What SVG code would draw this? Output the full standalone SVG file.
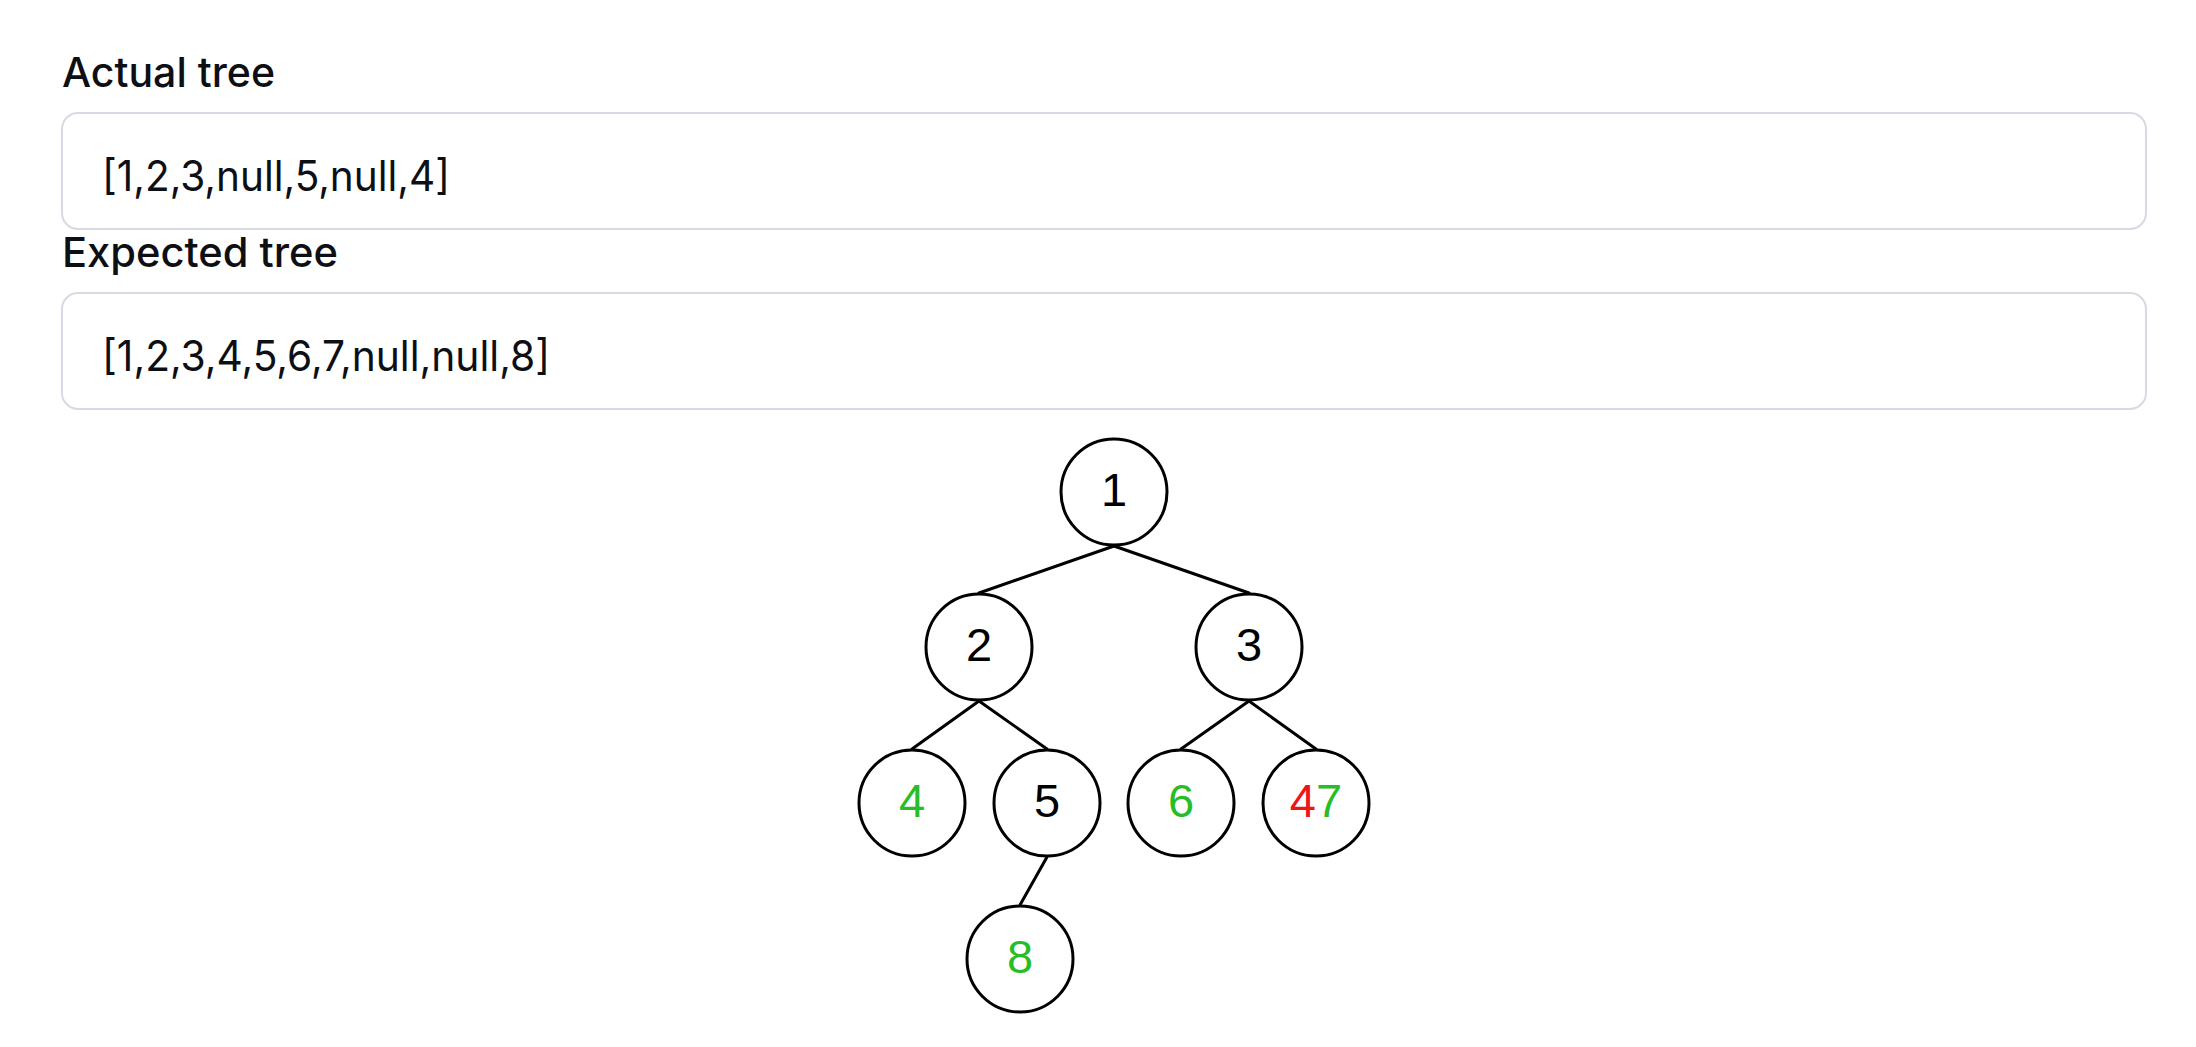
<svg xmlns="http://www.w3.org/2000/svg" width="2196" height="1047" viewBox="0 0 2196 1047">
  <style>
    .label { font-family: Inter, "Noto Sans", "Liberation Sans", sans-serif; font-weight: 500; font-size: 41px; fill: #0d0f14; }
    .field { fill: #ffffff; stroke: #d6dae3; stroke-width: 2; }
    .value { font-family: Inter, "Noto Sans", "Liberation Sans", sans-serif; font-weight: 400; font-size: 42px; fill: #0d0f14; }
    .node circle { fill: #ffffff; stroke: #000000; stroke-width: 3; }
    .node text { font-family: "Liberation Sans", Arial, sans-serif; font-size: 47px; text-anchor: middle; fill: #000000; }
    .node .ok { fill: #27bd27; }
    .node .bad { fill: #f01515; }
    .edges line { stroke: #000000; stroke-width: 3; stroke-linecap: round; }
  </style>

  <rect width="2196" height="1047" fill="#ffffff"/>

  <!-- Input fields -->
  <g id="actual">
    <text class="label" x="62" y="87" textLength="213" lengthAdjust="spacingAndGlyphs">Actual tree</text>
    <rect class="field" x="62" y="113" width="2084" height="116" rx="16" ry="16"/>
    <text class="value" x="102" y="191" textLength="348" lengthAdjust="spacingAndGlyphs">[1,2,3,null,5,null,4]</text>
  </g>
  <g id="expected">
    <text class="label" x="62" y="267" textLength="276" lengthAdjust="spacingAndGlyphs">Expected tree</text>
    <rect class="field" x="62" y="293" width="2084" height="116" rx="16" ry="16"/>
    <text class="value" x="102" y="371" textLength="448" lengthAdjust="spacingAndGlyphs">[1,2,3,4,5,6,7,null,null,8]</text>
  </g>

  <!-- Tree connectors: parent bottom to child top -->
  <g id="edges" class="edges">
    <line x1="1114" y1="546" x2="979" y2="593"/>
    <line x1="1114" y1="546" x2="1249" y2="593"/>
    <line x1="979" y1="701" x2="912" y2="749"/>
    <line x1="979" y1="701" x2="1047" y2="749"/>
    <line x1="1249" y1="701" x2="1181" y2="749"/>
    <line x1="1249" y1="701" x2="1316" y2="749"/>
    <line x1="1047" y1="857" x2="1020" y2="905"/>
  </g>

  <!-- Tree nodes -->
  <g id="node-1" class="node">
    <circle cx="1114" cy="492" r="53"/>
    <text x="1114" y="506">1</text>
  </g>
  <g id="node-2" class="node">
    <circle cx="979" cy="647" r="53"/>
    <text x="979" y="661">2</text>
  </g>
  <g id="node-3" class="node">
    <circle cx="1249" cy="647" r="53"/>
    <text x="1249" y="661">3</text>
  </g>
  <g id="node-4" class="node">
    <circle cx="912" cy="803" r="53"/>
    <text class="ok" x="912" y="817">4</text>
  </g>
  <g id="node-5" class="node">
    <circle cx="1047" cy="803" r="53"/>
    <text x="1047" y="817">5</text>
  </g>
  <g id="node-6" class="node">
    <circle cx="1181" cy="803" r="53"/>
    <text class="ok" x="1181" y="817">6</text>
  </g>
  <g id="node-7" class="node">
    <circle cx="1316" cy="803" r="53"/>
    <text x="1316" y="817"><tspan class="bad">4</tspan><tspan class="ok">7</tspan></text>
  </g>
  <g id="node-8" class="node">
    <circle cx="1020" cy="959" r="53"/>
    <text class="ok" x="1020" y="973">8</text>
  </g>
</svg>
